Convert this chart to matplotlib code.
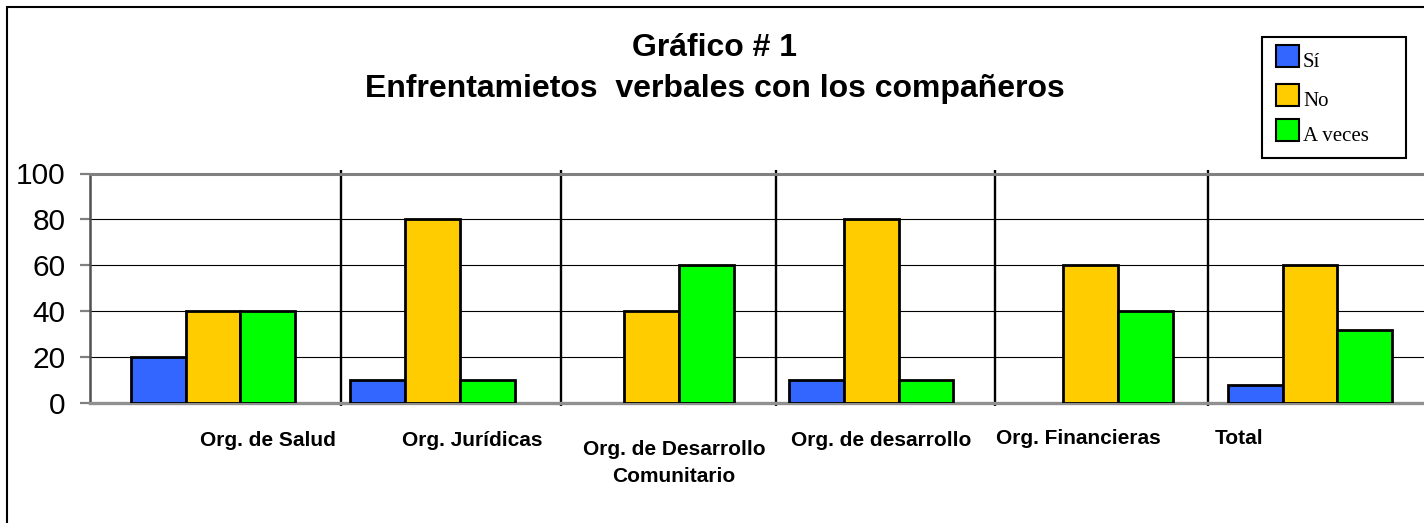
import matplotlib
matplotlib.use("Agg")
import matplotlib.pyplot as plt
import matplotlib.transforms as mtransforms
from matplotlib.patches import Rectangle
import numpy as np

# ---- data ----
categories = ["Org. de Salud", "Org. Jurídicas", "Org. de Desarrollo\nComunitario",
              "Org. de desarrollo", "Org. Financieras", "Total"]
series_names = ["Sí", "No", "A veces"]
si = [20, 10, 0, 10, 0, 8]
no = [40, 80, 40, 80, 60, 60]
a_veces = [40, 10, 60, 10, 40, 32]
yticks = [0, 20, 40, 60, 80, 100]
title_line1 = "Gráfico # 1"
title_line2 = "Enfrentamietos  verbales con los compañeros"

# ---- style / layout ----
colors = ["#3366FF", "#FFCC00", "#00FF00"]
W, H = 1424, 523
plt.rcParams["font.family"] = ["Liberation Sans", "DejaVu Sans"]

fig = plt.figure(figsize=(W / 100, H / 100), dpi=100)
fig.patch.set_facecolor("white")
ax = fig.add_axes([90 / W, 1 - 403 / H, 1334 / W, 229.5 / H])

x = np.arange(len(categories))
bar_w = 0.25
offsets = [-bar_w, 0, bar_w]
for vals, col, off in zip([si, no, a_veces], colors, offsets):
    vals = np.asarray(vals, dtype=float)
    m = vals > 0
    ax.bar(x[m] + off, vals[m], width=bar_w, color=col, edgecolor="black",
           linewidth=2.0, zorder=3)

ax.set_xlim(-0.5606, 5.5196)
ax.set_ylim(0, 100)
ax.set_yticks(yticks)
ax.set_xticks([])
ax.yaxis.grid(True, color="black", linewidth=0.8, zorder=0)
ax.set_axisbelow(True)

# vertical separators (gridlines between groups)
sep_positions = [0.583, 1.586, 2.566, 3.564, 4.535]
ax.vlines(sep_positions, -1.4, 101.4, color="black", linewidth=1.7,
          clip_on=False, zorder=2)

ax.spines["right"].set_visible(False)
ax.spines["top"].set_color("#808080")
ax.spines["top"].set_linewidth(2.2)
ax.spines["bottom"].set_color("#909090")
ax.spines["bottom"].set_linewidth(2.4)
ax.spines["left"].set_color("#505050")
ax.spines["left"].set_linewidth(1.8)
ax.tick_params(axis="y", length=7.2, width=1.6, color="#808080", pad=10.5,
               labelsize=21.5, labelcolor="black")

# category labels (positioned as in the original)
label_x = [0.251, 1.180, 2.101, 3.045, 3.943, 4.676]
label_y = [440, 440, 463, 440, 438, 438]
trans = mtransforms.blended_transform_factory(ax.transData, fig.transFigure)
for lab, lx, ly in zip(categories, label_x, label_y):
    ax.text(lx, 1 - ly / H, lab, transform=trans, ha="center", va="center",
            multialignment="center", fontsize=15, fontweight="bold",
            linespacing=1.5)

# title
fig.text(715 / W, 1 - 56 / H, title_line1, ha="center", va="baseline",
         fontsize=23, fontweight="bold")
fig.text(715 / W, 1 - 97 / H, title_line2, ha="center", va="baseline",
         fontsize=23, fontweight="bold")

# legend (manual)
fig.add_artist(Rectangle((1262 / W, 1 - 158 / H), 144 / W, 121 / H,
                         transform=fig.transFigure, fill=False,
                         edgecolor="black", linewidth=1.5))
row_tops = [45, 84, 119]
for name, col, top in zip(series_names, colors, row_tops):
    fig.add_artist(Rectangle((1276 / W, 1 - (top + 22) / H), 23 / W, 22 / H,
                             transform=fig.transFigure, facecolor=col,
                             edgecolor="black", linewidth=1.5))
    fig.text(1303 / W, 1 - (top + 22) / H, name, ha="left", va="baseline",
             fontsize=15, family=["Liberation Serif", "DejaVu Serif"])

# outer frame
fig.add_artist(Rectangle((7 / W, -0.1), 1.2, 1 - 7 / H + 0.1,
                         transform=fig.transFigure, fill=False,
                         edgecolor="black", linewidth=1.5))

fig.savefig("out.png", dpi=100, facecolor="white")
